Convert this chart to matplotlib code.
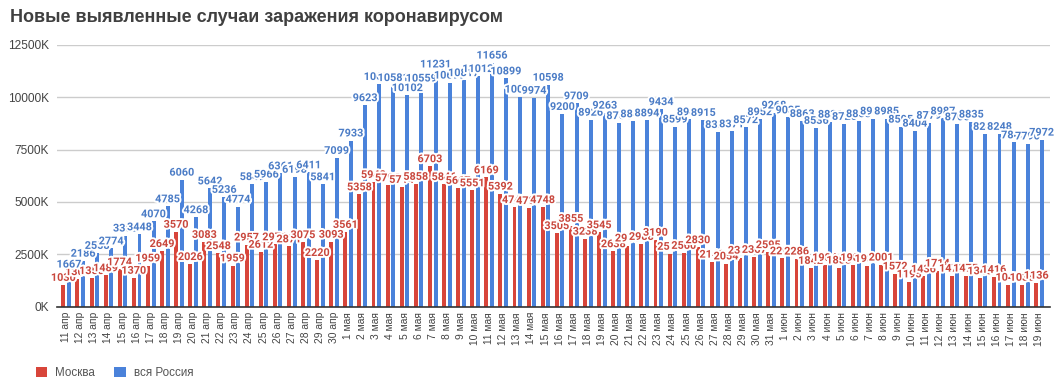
import matplotlib
matplotlib.use('Agg')
import matplotlib.pyplot as plt
import matplotlib.patheffects as pe
from matplotlib.patches import Patch
import numpy as np

# Daily new cases, 11 Apr - 19 Jun
dates = ([f"{d} апр" for d in range(11, 31)]
         + [f"{d} мая" for d in range(1, 32)]
         + [f"{d} июн" for d in range(1, 20)])

moscow = [1030, 1306, 1355, 1489, 1774, 1370, 1959, 2649, 3570, 2026,
          3083, 2548, 1959, 2957, 2612, 2971, 2871, 3075, 2220, 3093,
          3561, 5358, 5948, 5795, 5714, 5858, 6703, 5846, 5667, 5551,
          6169, 5392, 4748, 4703, 4748, 3505, 3855, 3238, 3545, 2638,
          2913, 2988, 3190, 2516, 2560, 2830, 2140, 2054, 2332, 2367,
          2595, 2297, 2286, 1842, 1984, 1858, 1984, 1935, 2001, 1572,
          1195, 1436, 1714, 1470, 1475, 1345, 1416, 1040, 1035, 1136]

russia = [1667, 2186, 2558, 2774, 3388, 3448, 4070, 4785, 6060, 4268,
          5642, 5236, 4774, 5849, 5966, 6361, 6198, 6411, 5841, 7099,
          7933, 9623, 10633, 10581, 10102, 10559, 11231, 10699, 10817, 11012,
          11656, 10899, 10028, 9974, 10598, 9200, 9709, 8926, 9263, 8764,
          8849, 8894, 9434, 8599, 8946, 8915, 8338, 8371, 8572, 8952,
          9268, 9035, 8863, 8536, 8831, 8726, 8855, 8984, 8985, 8595,
          8404, 8779, 8987, 8706, 8835, 8246, 8248, 7843, 7790, 7972]

series_names = ['Москва', 'вся Россия']
bar_colors = ['#d8453a', '#4a82da']
label_colors = ['#c9473d', '#4b7cc6']

fig = plt.figure(figsize=(10.63, 3.89), dpi=100)
ax = fig.add_axes([57 / 1063, 1 - 306.5 / 389, (1050 - 57) / 1063, (306.5 - 45) / 389])

x = np.arange(len(dates))
offset = 0.2
width = 0.28

halo = [pe.withStroke(linewidth=2.8, foreground='white')]

for k, (vals, sign) in enumerate([(moscow, -1), (russia, 1)]):
    ax.bar(x + sign * offset, vals, width=width, color=bar_colors[k], zorder=2)

# labels drawn in order so later ones sit on top, like the original
for i in range(len(dates)):
    for k, (vals, sign) in enumerate([(moscow, -1), (russia, 1)]):
        ax.annotate(str(vals[i]), (x[i] + sign * offset, vals[i]),
                    xytext=(0, 1.5), textcoords='offset points',
                    ha='center', va='bottom', fontsize=7.8,
                    family='Roboto', fontweight='bold',
                    color=label_colors[k], path_effects=halo,
                    zorder=5 + k)

ax.set_ylim(0, 12500)
ax.set_xlim(-0.65, len(dates) - 1 + 0.78)
ax.set_yticks(np.arange(0, 12501, 2500))
ax.set_yticklabels([f"{v}K" for v in range(0, 12501, 2500)])
ax.set_xticks(x)
ax.set_xticklabels(dates, rotation=90, ha='center', va='top')

ax.tick_params(axis='y', length=0, pad=6, labelsize=8.6, labelcolor='#444444')
ax.tick_params(axis='x', length=0, pad=4, labelsize=7.4, labelcolor='#444444')
for lbl in ax.get_xticklabels() + ax.get_yticklabels():
    lbl.set_family('Liberation Sans')

ax.grid(axis='y', color='#cccccc', linewidth=1, zorder=0)
ax.set_axisbelow(True)
for s in ['top', 'right', 'left']:
    ax.spines[s].set_visible(False)
ax.spines['bottom'].set_color('#333333')
ax.spines['bottom'].set_linewidth(1.2)
ax.spines['bottom'].set_zorder(4)

fig.text(10 / 1063, 1 - 17 / 389, 'Новые выявленные случаи заражения коронавирусом',
         ha='left', va='center', fontsize=13, fontweight='bold',
         family='Liberation Sans', color='#404040')

handles = [Patch(facecolor=c, edgecolor='none') for c in bar_colors]
fig.legend(handles, series_names, loc='center left',
           bbox_to_anchor=(25 / 1063, 1 - 373 / 389), ncol=2, frameon=False,
           handlelength=1.0, handleheight=1.0, handletextpad=0.7,
           columnspacing=1.6, prop={'family': 'Liberation Sans', 'size': 8.4},
           labelcolor='#555555')

fig.savefig('out.png', dpi=100)
plt.close(fig)
